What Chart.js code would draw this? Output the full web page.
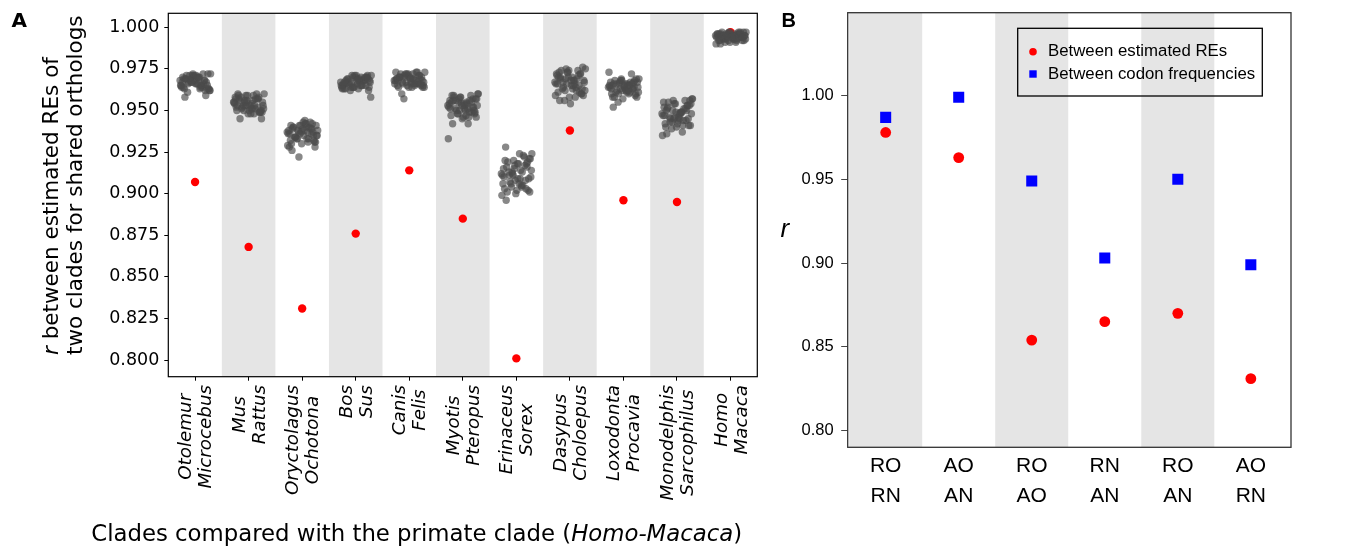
<!DOCTYPE html>
<html>
<head>
<meta charset="utf-8">
<script src="https://cdn.jsdelivr.net/npm/chart.js@4/dist/chart.umd.min.js"></script>
<style>
  body { margin: 0; background: #fff; }
  #wrap { position: relative; width: 1353px; height: 546px; }
  canvas { position: absolute; top: 0; }
  #chartA { left: 0; }
  #chartB { left: 770px; }
</style>
</head>
<body>
<div id="wrap">
  <canvas id="chartA" width="770" height="546"></canvas>
  <canvas id="chartB" width="583" height="546"></canvas>
</div>
<script>
// ---- Panel A data ----
var cladeTop = ['Otolemur', 'Mus', 'Oryctolagus', 'Bos', 'Canis', 'Myotis', 'Erinaceus', 'Dasypus', 'Loxodonta', 'Monodelphis', 'Homo'];
var cladeBottom = ['Microcebus', 'Rattus', 'Ochotona', 'Sus', 'Felis', 'Pteropus', 'Sorex', 'Choloepus', 'Procavia', 'Sarcophilus', 'Macaca'];
var tickValsA = [0.800, 0.825, 0.850, 0.875, 0.900, 0.925, 0.950, 0.975, 1.000];

// r between estimated REs (red)
var reValues = [0.907, 0.868, 0.831, 0.876, 0.914, 0.885, 0.801, 0.938, 0.896, 0.895, 0.997];

// horizontal spread of the grey strip points (category units)
var jitterX = [-0.28, 0.12, -0.05, 0.25, -0.18, 0.03, 0.29, -0.22, 0.08, -0.12, 0.19, -0.01,
  -0.26, 0.15, 0.22, -0.08, 0.05, -0.16, 0.27, -0.24, 0.10, -0.03, 0.17, -0.20,
  0.01, 0.24, -0.14, 0.07, -0.27, 0.20, -0.10, 0.13, -0.06, 0.28, -0.19, 0.04,
  -0.23, 0.16, -0.09, 0.26, -0.02, 0.11, -0.17, 0.21, -0.25, 0.06, -0.13, 0.18,
  -0.04, 0.23, -0.21, 0.09, -0.07, 0.02];

var otolemurY = [0.968, 0.965, 0.971, 0.963, 0.969, 0.966, 0.972, 0.964, 0.970, 0.967, 0.962, 0.968, 0.965, 0.972, 0.963, 0.969, 0.966, 0.971, 0.962, 0.967, 0.964, 0.970, 0.968, 0.963, 0.966, 0.972, 0.961, 0.969, 0.965, 0.959, 0.971, 0.964, 0.967, 0.962, 0.958, 0.970,
  0.970, 0.966, 0.968, 0.963, 0.971, 0.965, 0.969, 0.967, 0.964, 0.970, 0.966, 0.968, 0.972, 0.965, 0.969, 0.963, 0.967, 0.971];
var musY = [0.955, 0.951, 0.959, 0.949, 0.957, 0.953, 0.960, 0.950, 0.956, 0.952, 0.958, 0.948, 0.954, 0.960, 0.949, 0.955, 0.951, 0.945, 0.953, 0.957, 0.948, 0.956, 0.952, 0.960, 0.950, 0.945, 0.958, 0.951, 0.955, 0.949, 0.953, 0.957, 0.953, 0.951, 0.959, 0.948,
  0.952, 0.957, 0.950, 0.955, 0.959, 0.953, 0.956, 0.949, 0.958, 0.954, 0.951, 0.957, 0.955, 0.950, 0.953, 0.959, 0.956, 0.952];
var oryctolagusY = [0.937, 0.933, 0.941, 0.931, 0.939, 0.935, 0.938, 0.932, 0.940, 0.934, 0.942, 0.930, 0.936, 0.943, 0.932, 0.938, 0.944, 0.940, 0.935, 0.928, 0.937, 0.941, 0.936, 0.930, 0.939, 0.928, 0.934, 0.942, 0.929, 0.937, 0.933, 0.940, 0.922, 0.935, 0.926, 0.938,
  0.936, 0.939, 0.933, 0.941, 0.937, 0.931, 0.940, 0.935, 0.938, 0.942, 0.934, 0.939, 0.936, 0.931, 0.941, 0.933, 0.937, 0.943];
var bosY = [0.967, 0.965, 0.970, 0.964, 0.968, 0.966, 0.971, 0.963, 0.969, 0.967, 0.965, 0.970, 0.964, 0.968, 0.971, 0.966, 0.963, 0.969, 0.967, 0.965, 0.970, 0.964, 0.968, 0.966, 0.971, 0.962, 0.969, 0.967, 0.965, 0.970, 0.962, 0.968, 0.964, 0.958, 0.963, 0.969,
  0.966, 0.969, 0.964, 0.968, 0.971, 0.965, 0.967, 0.970, 0.963, 0.968, 0.966, 0.970, 0.964, 0.969, 0.967, 0.965, 0.971, 0.968];
var canisY = [0.968, 0.966, 0.972, 0.964, 0.970, 0.967, 0.973, 0.965, 0.969, 0.966, 0.971, 0.964, 0.968, 0.973, 0.965, 0.970, 0.964, 0.972, 0.967, 0.969, 0.965, 0.971, 0.966, 0.964, 0.970, 0.968, 0.960, 0.972, 0.966, 0.969, 0.957, 0.973, 0.967, 0.964, 0.970, 0.966,
  0.969, 0.967, 0.971, 0.965, 0.972, 0.968, 0.970, 0.966, 0.973, 0.969, 0.967, 0.971, 0.965, 0.970, 0.968, 0.966, 0.972, 0.969];
var myotisY = [0.953, 0.949, 0.958, 0.946, 0.956, 0.951, 0.960, 0.947, 0.954, 0.950, 0.957, 0.945, 0.952, 0.959, 0.948, 0.955, 0.950, 0.958, 0.953, 0.956, 0.942, 0.954, 0.949, 0.959, 0.946, 0.957, 0.951, 0.955, 0.933, 0.952, 0.948, 0.956, 0.950, 0.960, 0.942, 0.953,
  0.951, 0.955, 0.948, 0.957, 0.953, 0.946, 0.959, 0.950, 0.954, 0.947, 0.956, 0.952, 0.958, 0.949, 0.955, 0.951, 0.957, 0.954];
var erinaceusY = [0.912, 0.905, 0.920, 0.901, 0.916, 0.909, 0.924, 0.903, 0.914, 0.907, 0.918, 0.900, 0.911, 0.922, 0.902, 0.913, 0.906, 0.919, 0.910, 0.915, 0.904, 0.917, 0.908, 0.928, 0.902, 0.921, 0.913, 0.909, 0.899, 0.916, 0.906, 0.923, 0.911, 0.914, 0.896, 0.918,
  0.910, 0.917, 0.904, 0.921, 0.908, 0.913, 0.901, 0.919, 0.906, 0.924, 0.911, 0.903, 0.915, 0.909, 0.920, 0.905, 0.912, 0.918];
var dasypusY = [0.967, 0.962, 0.973, 0.959, 0.970, 0.965, 0.975, 0.961, 0.968, 0.964, 0.972, 0.958, 0.966, 0.974, 0.960, 0.969, 0.963, 0.974, 0.967, 0.971, 0.958, 0.970, 0.965, 0.973, 0.954, 0.976, 0.963, 0.968, 0.959, 0.972, 0.956, 0.969, 0.966, 0.962, 0.956, 0.970,
  0.966, 0.971, 0.962, 0.968, 0.974, 0.964, 0.969, 0.960, 0.972, 0.965, 0.967, 0.961, 0.973, 0.963, 0.970, 0.966, 0.975, 0.968];
var loxodontaY = [0.964, 0.961, 0.968, 0.958, 0.966, 0.963, 0.969, 0.960, 0.965, 0.962, 0.967, 0.957, 0.965, 0.972, 0.959, 0.966, 0.962, 0.968, 0.964, 0.967, 0.960, 0.968, 0.963, 0.958, 0.965, 0.969, 0.961, 0.966, 0.973, 0.964, 0.955, 0.967, 0.963, 0.961, 0.952, 0.966,
  0.963, 0.966, 0.960, 0.967, 0.962, 0.965, 0.958, 0.968, 0.964, 0.961, 0.966, 0.963, 0.969, 0.960, 0.965, 0.962, 0.967, 0.964];
var monodelphisY = [0.948, 0.944, 0.954, 0.941, 0.951, 0.946, 0.957, 0.942, 0.949, 0.945, 0.953, 0.940, 0.947, 0.956, 0.941, 0.950, 0.945, 0.955, 0.948, 0.952, 0.937, 0.954, 0.944, 0.950, 0.942, 0.956, 0.946, 0.949, 0.935, 0.953, 0.939, 0.951, 0.945, 0.957, 0.936, 0.948,
  0.947, 0.951, 0.943, 0.954, 0.949, 0.941, 0.952, 0.945, 0.955, 0.948, 0.943, 0.950, 0.946, 0.953, 0.940, 0.949, 0.956, 0.944];
var homoY = [0.995, 0.993, 0.996, 0.992, 0.996, 0.994, 0.997, 0.992, 0.995, 0.993, 0.996, 0.991, 0.994, 0.997, 0.992, 0.996, 0.993, 0.997, 0.995, 0.996, 0.991, 0.997, 0.994, 0.992, 0.995, 0.997, 0.993, 0.996, 0.990, 0.994, 0.991, 0.996, 0.994, 0.993, 0.990, 0.995,
  0.994, 0.996, 0.993, 0.995, 0.997, 0.992, 0.995, 0.994, 0.996, 0.993, 0.995, 0.997, 0.992, 0.994, 0.996, 0.993, 0.995, 0.994];

// ---- Panel B data ----
var pairTop = ['RO', 'AO', 'RO', 'RN', 'RO', 'AO'];
var pairBottom = ['RN', 'AN', 'AO', 'AN', 'AN', 'RN'];
var betweenREs = [0.978, 0.963, 0.854, 0.865, 0.870, 0.831];
var betweenCodons = [0.987, 0.999, 0.949, 0.903, 0.950, 0.899];
var tickValsB = [0.80, 0.85, 0.90, 0.95, 1.00];

var SANS_A = '"DejaVu Sans", sans-serif';
var SANS_B = '"Liberation Sans", Arial, sans-serif';
var BAND = '#e5e5e5';

// grey bands behind every other category
function bandsPlugin(count, shadeOdd) {
  return {
    id: 'bands',
    beforeDatasetsDraw: function(chart) {
      var ca = chart.chartArea, xs = chart.scales.x, ctx = chart.ctx;
      ctx.save();
      ctx.fillStyle = BAND;
      for (var i = 0; i < count; i++) {
        if ((i % 2 === 1) !== shadeOdd) continue;
        var l = Math.max(xs.getPixelForValue(i - 0.5), ca.left);
        var r = Math.min(xs.getPixelForValue(i + 0.5), ca.right);
        ctx.fillRect(l, ca.top, r - l, ca.bottom - ca.top);
      }
      ctx.restore();
    }
  };
}

function framePlugin(color, width) {
  return {
    id: 'frame',
    afterDraw: function(chart) {
      var ca = chart.chartArea, ctx = chart.ctx;
      ctx.save();
      ctx.strokeStyle = color;
      ctx.lineWidth = width;
      ctx.strokeRect(ca.left, ca.top, ca.right - ca.left, ca.bottom - ca.top);
      ctx.restore();
    }
  };
}

// ---------- Panel A ----------
var cloudY = [otolemurY, musY, oryctolagusY, bosY, canisY, myotisY, erinaceusY, dasypusY, loxodontaY, monodelphisY, homoY];
var datasetsA = cloudY.map(function(ys, i) {
  return {
    data: ys.map(function(y, j) { return { x: i + jitterX[j], y: y }; }),
    backgroundColor: 'rgba(74,74,74,0.66)',
    borderWidth: 0,
    pointRadius: 3.7,
    pointHoverRadius: 3.7
  };
});
datasetsA.push({
  data: reValues.map(function(y, i) { return { x: i, y: y }; }),
  backgroundColor: '#ff0000',
  borderWidth: 0,
  pointRadius: 4.2,
  pointHoverRadius: 4.2
});

var textA = {
  id: 'textA',
  afterDraw: function(chart) {
    var ctx = chart.ctx, xs = chart.scales.x;
    ctx.save();
    ctx.fillStyle = '#000';

    // rotated two-line clade labels, lines centred on each other
    ctx.font = 'italic 18.3px ' + SANS_A;
    ctx.textAlign = 'center';
    ctx.textBaseline = 'alphabetic';
    for (var i = 0; i < cladeTop.length; i++) {
      var px = xs.getPixelForValue(i);
      var w = Math.max(ctx.measureText(cladeTop[i]).width, ctx.measureText(cladeBottom[i]).width);
      var cy = 385 + w / 2;
      [[cladeTop[i], -4], [cladeBottom[i], 16]].forEach(function(ln) {
        ctx.save();
        ctx.translate(px + ln[1], cy);
        ctx.rotate(-Math.PI / 2);
        ctx.fillText(ln[0], 0, 0);
        ctx.restore();
      });
    }

    // y title (two lines, first starts with italic r)
    ctx.textAlign = 'left';
    ctx.save();
    ctx.translate(58.3, 355);
    ctx.rotate(-Math.PI / 2);
    ctx.font = 'italic 21.5px ' + SANS_A;
    ctx.fillText('r', 0, 0);
    var rw = ctx.measureText('r').width;
    ctx.font = '21.5px ' + SANS_A;
    ctx.fillText(' between estimated REs of', rw, 0);
    ctx.restore();
    ctx.save();
    ctx.translate(81.5, 355);
    ctx.rotate(-Math.PI / 2);
    ctx.font = '21.5px ' + SANS_A;
    ctx.fillText('two clades for shared orthologs', 0, 0);
    ctx.restore();

    // x title with italic genus names
    var parts = [['Clades compared with the primate clade (', ''], ['Homo-Macaca', 'italic '], [')', '']];
    var total = 0;
    parts.forEach(function(p) { ctx.font = p[1] + '22.8px ' + SANS_A; total += ctx.measureText(p[0]).width; });
    var x = 416.7 - total / 2;
    parts.forEach(function(p) {
      ctx.font = p[1] + '22.8px ' + SANS_A;
      ctx.fillText(p[0], x, 541);
      x += ctx.measureText(p[0]).width;
    });

    // panel letter
    ctx.font = 'bold 20px ' + SANS_A;
    ctx.fillText('A', 11.5, 26.7);
    ctx.restore();
  }
};

new Chart(document.getElementById('chartA'), {
  type: 'scatter',
  data: { datasets: datasetsA },
  options: {
    responsive: false,
    animation: false,
    devicePixelRatio: 1,
    layout: { padding: { top: 13.3, right: 12.7, left: 0, bottom: 0 } },
    plugins: { legend: { display: false }, tooltip: { enabled: false } },
    scales: {
      x: {
        type: 'linear', min: -0.5, max: 10.5,
        afterBuildTicks: function(s) { s.ticks = cladeTop.map(function(_, i) { return { value: i }; }); },
        afterFit: function(s) { s.height = 169.3; s.paddingLeft = 0; s.paddingRight = 0; },
        ticks: { display: false },
        grid: { display: true, drawOnChartArea: false, drawTicks: true, tickLength: 4, color: '#000', lineWidth: 1 },
        border: { display: false }
      },
      y: {
        min: 0.790, max: 1.0084,
        afterBuildTicks: function(s) { s.ticks = tickValsA.map(function(v) { return { value: v }; }); },
        afterFit: function(s) { s.width = 168.3; s.paddingTop = 0; s.paddingBottom = 0; },
        ticks: {
          font: { family: SANS_A, size: 17.5 }, color: '#000', padding: 5,
          callback: function(v) { return v.toFixed(3); }
        },
        grid: { display: true, drawOnChartArea: false, drawTicks: true, tickLength: 4, color: '#000', lineWidth: 1 },
        border: { display: false }
      }
    }
  },
  plugins: [bandsPlugin(cladeTop.length, true), framePlugin('#000', 1.2), textA]
});

// ---------- Panel B ----------
var textB = {
  id: 'textB',
  afterDraw: function(chart) {
    var ctx = chart.ctx;
    ctx.save();
    ctx.fillStyle = '#000';
    ctx.textBaseline = 'alphabetic';
    ctx.textAlign = 'left';
    ctx.font = 'bold 20px ' + SANS_B;
    ctx.fillText('B', 11.5, 26.7);
    ctx.font = 'italic 26px ' + SANS_B;
    ctx.fillText('r', 10.5, 236.7);

    // legend
    ctx.strokeStyle = '#000';
    ctx.lineWidth = 1.3;
    ctx.strokeRect(247.7, 28.3, 244.6, 67.7);
    ctx.fillStyle = '#ff0000';
    ctx.beginPath();
    ctx.arc(263, 51.7, 3.8, 0, Math.PI * 2);
    ctx.fill();
    ctx.fillStyle = '#0000ff';
    ctx.fillRect(259.3, 70.3, 7.4, 7.4);
    ctx.fillStyle = '#000';
    ctx.font = '16.8px ' + SANS_B;
    ctx.textBaseline = 'middle';
    ctx.fillText('Between estimated REs', 278, 51.7);
    ctx.fillText('Between codon frequencies', 278, 74);
    ctx.restore();
  }
};

new Chart(document.getElementById('chartB'), {
  type: 'scatter',
  data: {
    datasets: [
      {
        data: betweenCodons.map(function(y, i) { return { x: i, y: y }; }),
        pointStyle: 'rect', backgroundColor: '#0000ff', borderWidth: 0,
        pointRadius: 7.8, pointHoverRadius: 7.8
      },
      {
        data: betweenREs.map(function(y, i) { return { x: i, y: y }; }),
        pointStyle: 'circle', backgroundColor: '#ff0000', borderWidth: 0,
        pointRadius: 5.4, pointHoverRadius: 5.4
      }
    ]
  },
  options: {
    responsive: false,
    animation: false,
    devicePixelRatio: 1,
    layout: { padding: { top: 12.7, right: 62, left: 0, bottom: 0 } },
    plugins: { legend: { display: false }, tooltip: { enabled: false } },
    scales: {
      x: {
        type: 'linear', min: -0.52, max: 5.55,
        afterBuildTicks: function(s) { s.ticks = pairTop.map(function(_, i) { return { value: i }; }); },
        afterFit: function(s) { s.height = 546 - 447.3; s.paddingLeft = 0; s.paddingRight = 0; },
        ticks: {
          autoSkip: false, maxRotation: 0, minRotation: 0, padding: 4, color: '#000',
          font: { family: SANS_B, size: 21, lineHeight: 1.43 },
          callback: function(v) { return [pairTop[v], pairBottom[v]]; }
        },
        grid: { display: false, drawTicks: false },
        border: { display: false }
      },
      y: {
        min: 0.790, max: 1.0495,
        afterBuildTicks: function(s) { s.ticks = tickValsB.map(function(v) { return { value: v }; }); },
        afterFit: function(s) { s.width = 77.7; s.paddingTop = 0; s.paddingBottom = 0; },
        ticks: {
          font: { family: SANS_B, size: 16.5 }, color: '#000', padding: 7.5,
          callback: function(v) { return v.toFixed(2); }
        },
        grid: { display: true, drawOnChartArea: false, drawTicks: true, tickLength: 6.5, color: '#444', lineWidth: 1 },
        border: { display: false }
      }
    }
  },
  plugins: [bandsPlugin(pairTop.length, false), framePlugin('#333', 1.3), textB]
});
</script>
</body>
</html>
